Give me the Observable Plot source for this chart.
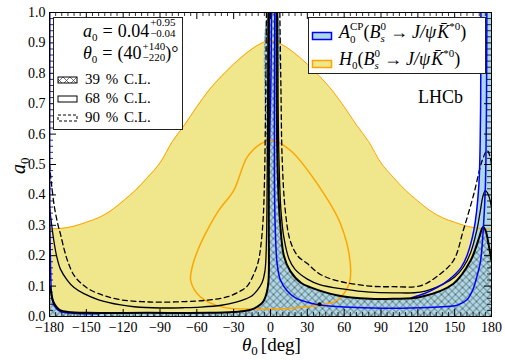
<!DOCTYPE html>
<html><head><meta charset="utf-8">
<script src="https://cdn.jsdelivr.net/npm/d3@7"></script>
<script src="https://cdn.jsdelivr.net/npm/@observablehq/plot@0.6"></script>
<style>body{margin:0;background:#fff} svg{display:block}</style>
</head><body>
<div id="chart"></div>
<script>
// ---------- tick values ----------
const xTicks = [-180,-150,-120,-90,-60,-30,0,30,60,90,120,150,180];
const xMinor = [-175,-170,-165,-160,-155,-145,-140,-135,-130,-125,-115,-110,-105,-100,-95,-85,-80,-75,-70,-65,-55,-50,-45,-40,-35,-25,-20,-15,-10,-5,5,10,15,20,25,35,40,45,50,55,65,70,75,80,85,95,100,105,110,115,125,130,135,140,145,155,160,165,170,175];
const yTicks = [0,0.1,0.2,0.3,0.4,0.5,0.6,0.7,0.8,0.9,1.0];
const yMinor = [0.02,0.04,0.06,0.08,0.12,0.14,0.16,0.18,0.22,0.24,0.26,0.28,0.32,0.34,0.36,0.38,0.42,0.44,0.46,0.48,0.52,0.54,0.56,0.58,0.62,0.64,0.66,0.68,0.72,0.74,0.76,0.78,0.82,0.84,0.86,0.88,0.92,0.94,0.96,0.98];

// ---------- H0 region (upper edge) and H0 contour [theta0, a0] ----------
const h0Top = [[-180,.288],[-170,.29],[-160,.297],[-150,.31],[-140,.325],[-130,.348],[-120,.38],[-110,.415],[-100,.458],[-90,.505],[-80,.575],[-70,.63],[-60,.69],[-50,.745],[-40,.79],[-30,.83],[-20,.865],[-10,.893],[0,.908],[10,.893],[20,.865],[30,.83],[40,.79],[50,.745],[60,.69],[70,.63],[80,.575],[90,.505],[100,.458],[110,.415],[120,.38],[130,.348],[140,.325],[150,.31],[160,.297],[170,.29],[180,.288]];
const h0Loop = [[1.4,.579],[-8,.568],[-19,.524],[-30,.414],[-42,.35],[-51.6,.283],[-60,.21],[-63.8,.162],[-65,.118],[-57,.064],[-38,.03],[-8,.025],[24.4,.03],[54,.053],[64,.108],[65,.174],[57,.305],[38,.437],[16.3,.546]];

// ---------- A0CP contour lines ----------
const blueLeft = [[-179.8,1],[-179.8,.45],[-179.3,.2],[-178,.063],[-176,.035],[-171,.016],[-160,.011],[-140,.009]];
const blueSpike = [[3.5,1],[3.2,.7],[3.2,.45],[3.8,.3],[5.4,.174],[8,.12],[13.5,.085],[20,.062],[30,.047],[40,.038],[60,.031],[92,.027],[122,.029],[140,.032],[152,.037],[160,.055],[165,.09],[168,.13],[171,.18],[173.5,.3],[175,.425],[175.8,.645],[176.1,.85],[176.2,1]];
const blueSpikeLeft = [[0.8,1],[0.4,.8],[-0.6,.6],[-1.3,.5]];
const blueOuter = [[115,.062],[125,.075],[136,.096],[145,.12],[155,.16],[160,.2],[165.6,.283],[169.6,.425],[171,.645],[171.3,.85],[171.4,1]];

// ---------- combined fit: 39 %, 68 %, 90 % C.L. contours ----------
const cl39Left = [[-180,.1],[-179,.085],[-177,.05],[-174,.03],[-171,.02],[-165,.015],[-150,.012],[-100,.012],[-50,.012],[-30,.015],[-19,.02],[-13.5,.026],[-8,.04],[-5.4,.053],[-3,.08],[-1.6,.118],[-1.4,.3],[-1.3,1]];
const cl39Right = [[5,1],[5.3,.6],[6.5,.4],[8,.3],[10.9,.2],[16,.15],[25,.11],[32.6,.096],[54,.07],[81,.058],[100,.058],[122,.064],[149,.108],[163,.184],[170,.26],[173,.294],[175,.285],[177.5,.24],[180,.184]];
const cl68Left = [[-180,.36],[-178.5,.31],[-176.5,.25],[-174,.195],[-171,.155],[-165.6,.12],[-160,.095],[-152,.075],[-140,.055],[-122,.038],[-111,.032],[-90,.028],[-70,.029],[-57,.031],[-40,.037],[-28,.047],[-20,.058],[-15,.068],[-11,.085],[-7,.11],[-4.5,.15],[-3.3,.25],[-2.7,.45],[-2.3,.7],[-2,1]];
const cl68Right = [[5.8,1],[6.2,.7],[7,.5],[8.5,.35],[10.9,.26],[15,.19],[20,.155],[30,.123],[40,.105],[60,.09],[81,.08],[100,.078],[122,.08],[140,.105],[150,.13],[157,.162],[163,.21],[168,.283],[171,.35],[173,.395],[175,.414],[177.5,.4],[180,.36]];
const cl90Left = [[-180,.5],[-178.5,.44],[-176,.36],[-173,.3],[-171,.27],[-168,.22],[-165,.18],[-160,.135],[-153,.105],[-146.6,.087],[-135,.068],[-122,.055],[-105,.049],[-90,.047],[-70,.049],[-51,.054],[-35,.065],[-24,.085],[-19,.1],[-13.5,.14],[-10,.18],[-8,.228],[-6,.32],[-4.9,.447],[-4,.7],[-3.3,1]];
const cl90Right = [[7.6,1],[8.5,.75],[9.5,.52],[12,.35],[16,.25],[22,.2],[30,.174],[40,.14],[54,.118],[81,.1],[100,.098],[122,.101],[135,.13],[149,.184],[157,.283],[165.6,.403],[172.4,.513],[176.5,.546],[178.5,.53],[180,.5]];
const bestFit = [[40,.04]];

// ---------- derived polygons ----------
const hatchPoly = [[-180,0], ...cl39Left, ...cl39Right, [180,0]];
const a0cpPoly = [[-180,0],[-180,1], ...blueLeft.slice(0,7), ...cl39Left.filter(d => d[0] > -155),
  ...cl39Right.filter(d => d[0] <= 163), ...blueOuter.filter(d => d[0] >= 165), [180,1],[180,0]];

const KHAKI = "#f0e68c", LBLUE = "#add8e6", ORANGE = "#ffa500", BLUE = "#0000ff";
const X = d => d[0], Y = d => d[1];
const H = 304, W = 442;

const svg = Plot.plot({
  width: 505, height: 360,
  marginLeft: 49, marginRight: 14, marginTop: 12, marginBottom: 44,
  style: {fontFamily: "'Liberation Serif', serif", fontSize: "14px", background: "white", color: "black"},
  x: {domain: [-180, 180]},
  y: {domain: [0, 1]},
  marks: [
    Plot.areaY(h0Top, {x: X, y: Y, fill: KHAKI, curve: "catmull-rom", clip: true}),
    Plot.line(a0cpPoly, {x: X, y: Y, fill: LBLUE, stroke: "none", curve: "catmull-rom", clip: true}),
    Plot.line(hatchPoly, {x: X, y: Y, fill: "url(#xhatch)", stroke: "none", curve: "catmull-rom", clip: true}),
    Plot.line(h0Top, {x: X, y: Y, stroke: ORANGE, strokeWidth: 1, curve: "catmull-rom", clip: true}),
    Plot.line(h0Loop, {x: X, y: Y, stroke: ORANGE, strokeWidth: 1.5, curve: "catmull-rom-closed", clip: true}),
    Plot.line(cl90Left, {x: X, y: Y, stroke: "black", strokeWidth: 1.3, strokeDasharray: "5,3.5", curve: "catmull-rom", clip: true}),
    Plot.line(cl90Right, {x: X, y: Y, stroke: "black", strokeWidth: 1.3, strokeDasharray: "5,3.5", curve: "catmull-rom", clip: true}),
    Plot.line(cl68Left, {x: X, y: Y, stroke: "black", strokeWidth: 1.3, curve: "catmull-rom", clip: true}),
    Plot.line(cl68Right, {x: X, y: Y, stroke: "black", strokeWidth: 1.3, curve: "catmull-rom", clip: true}),
    Plot.line(blueLeft, {x: X, y: Y, stroke: BLUE, strokeWidth: 1.5, curve: "catmull-rom", clip: true}),
    Plot.line(blueSpikeLeft, {x: X, y: Y, stroke: BLUE, strokeWidth: 1.5, curve: "catmull-rom", clip: true}),
    Plot.line(blueOuter, {x: X, y: Y, stroke: BLUE, strokeWidth: 1.5, curve: "catmull-rom", clip: true}),
    Plot.line(cl39Left, {x: X, y: Y, stroke: "black", strokeWidth: 2, curve: "catmull-rom", clip: true}),
    Plot.line(cl39Right, {x: X, y: Y, stroke: "black", strokeWidth: 2, curve: "catmull-rom", clip: true}),
    Plot.line(blueSpike, {x: X, y: Y, stroke: BLUE, strokeWidth: 1.5, curve: "catmull-rom", clip: true}),
    Plot.dot(bestFit, {x: X, y: Y, r: 2, fill: "black", stroke: "none"}),
    Plot.frame({stroke: "black", strokeWidth: 1}),
    Plot.tickX(xTicks, {x: d => d, insetTop: H - 7, stroke: "black"}),
    Plot.tickX(xTicks, {x: d => d, insetBottom: H - 7, stroke: "black"}),
    Plot.tickX(xMinor, {x: d => d, insetTop: H - 4, stroke: "black", strokeWidth: 0.8}),
    Plot.tickX(xMinor, {x: d => d, insetBottom: H - 4, stroke: "black", strokeWidth: 0.8}),
    Plot.tickY(yTicks, {y: d => d, insetRight: W - 7, stroke: "black"}),
    Plot.tickY(yTicks, {y: d => d, insetLeft: W - 7, stroke: "black"}),
    Plot.tickY(yMinor, {y: d => d, insetRight: W - 4, stroke: "black", strokeWidth: 0.8}),
    Plot.tickY(yMinor, {y: d => d, insetLeft: W - 4, stroke: "black", strokeWidth: 0.8}),
    Plot.axisX({ticks: xTicks, tickSize: 0, tickPadding: 6, tickFormat: d3.format("d"), label: null, fontSize: 14}),
    Plot.axisY({ticks: yTicks, tickSize: 0, tickPadding: 4, tickFormat: d3.format(".1f"), label: null, fontSize: 14})
  ]
});
document.getElementById("chart").append(svg);

// ---------- hatch pattern ----------
const s = d3.select(svg);
const defs = s.insert("defs", ":first-child");
const pat = defs.append("pattern").attr("id", "xhatch").attr("patternUnits", "userSpaceOnUse").attr("width", 7).attr("height", 7);
pat.append("path").attr("d", "M0,0L7,7M7,0L0,7M-1,1L1,-1M6,8L8,6M-1,6L1,8M6,-1L8,1").attr("stroke", "#3a3a3a").attr("stroke-width", 0.7).attr("fill", "none");

// ---------- text helper ----------
const FONT = "'Liberation Serif', serif";
function mathText(g, x, y, parts, base = 18) {
  let cx = x;
  const put = (q) => {
    const el = g.append("text").attr("x", cx).attr("y", y + (q.b || 0))
      .attr("text-anchor", "start")
      .attr("font-size", q.s || base).attr("font-family", FONT)
      .attr("font-style", q.i ? "italic" : "normal").attr("fill", "black").text(q.t);
    return el.node().getComputedTextLength();
  };
  for (const p of parts) {
    if (p.stack) {
      let w = 0;
      for (const q of p.stack) w = Math.max(w, put(q));
      cx += w + (p.g || 0);
    } else {
      cx += put(p) + (p.g || 0);
    }
  }
  return cx;
}

// ---------- left legend ----------
const lg = s.append("g").attr("text-anchor", "start");
lg.append("rect").attr("x", 53.5).attr("y", 17.5).attr("width", 129).attr("height", 112).attr("fill", "white").attr("stroke", "#222").attr("stroke-width", 1);
mathText(lg, 83, 37, [{t: "a", i: true}, {t: "0", s: 11, b: 4, g: 5}, {t: "=", g: 5}, {t: "0.04", g: 1},
  {stack: [{t: "+0.95", s: 11, b: -11}, {t: "\u22120.04", s: 11, b: 0}]}]);
mathText(lg, 83, 59, [{t: "\u03b8", i: true}, {t: "0", s: 11, b: 4, g: 5}, {t: "=", g: 5}, {t: "(40", g: 1},
  {stack: [{t: "+140", s: 11, b: -9}, {t: "\u2212220", s: 11, b: 2}]}, {t: ")\u00b0"}]);
lg.append("rect").attr("x", 58).attr("y", 77).attr("width", 19).attr("height", 6).attr("fill", "white").attr("stroke", "none");
lg.append("rect").attr("x", 58).attr("y", 77).attr("width", 19).attr("height", 6).attr("fill", "url(#xhatch)").attr("stroke", "black").attr("stroke-width", 1);
lg.append("rect").attr("x", 58).attr("y", 96).attr("width", 19).attr("height", 6).attr("fill", "white").attr("stroke", "black").attr("stroke-width", 1);
lg.append("rect").attr("x", 58).attr("y", 115).attr("width", 19).attr("height", 6).attr("fill", "white").attr("stroke", "black").attr("stroke-width", 1).attr("stroke-dasharray", "3,2");
const clLabels = ["39 % C.L.", "68 % C.L.", "90 % C.L."];
clLabels.forEach((t, i) => {
  lg.append("text").attr("x", 85).attr("y", 84 + i * 19).attr("font-size", 15).attr("font-family", FONT)
    .attr("text-anchor", "start").attr("word-spacing", "2px").text(t);
});

// ---------- right legend ----------
const rg = s.append("g").attr("text-anchor", "start");
rg.append("rect").attr("x", 308.5).attr("y", 17.5).attr("width", 177).attr("height", 56).attr("fill", "white").attr("stroke", "#222").attr("stroke-width", 1);
rg.append("rect").attr("x", 312.5).attr("y", 32.5).attr("width", 19).attr("height", 7).attr("fill", LBLUE).attr("stroke", BLUE).attr("stroke-width", 1.5);
rg.append("rect").attr("x", 312.5).attr("y", 60.5).attr("width", 19).attr("height", 7).attr("fill", KHAKI).attr("stroke", ORANGE).attr("stroke-width", 1.5);
const decay = [{t: "("}, {t: "B", i: true}, {stack: [{t: "0", s: 11, b: -8}, {t: "s", s: 11, i: true, b: 4}], g: 4},
  {t: "\u2192", g: 4}, {t: "J/\u03c8", i: true, g: 1}, {t: "K\u0304", i: true}, {t: "*0", s: 11, b: -8}, {t: ")"}];
mathText(rg, 339, 38, [{t: "A", i: true}, {stack: [{t: "CP", s: 11, b: -8}, {t: "0", s: 11, b: 5}]}, ...decay], 18);
mathText(rg, 339, 65, [{t: "H", i: true}, {t: "0", s: 11, b: 4}, ...decay], 18);

// ---------- LHCb and axis labels ----------
s.append("text").attr("x", 418).attr("y", 103).attr("font-size", 18).attr("font-family", FONT).attr("text-anchor", "start").text("LHCb");
mathText(s, 242, 351, [{t: "\u03b8", i: true, s: 19}, {t: "0", s: 13, b: 4, g: 3}, {t: "[deg]", s: 19}]);
const yl = s.append("g").attr("transform", "translate(25,174) rotate(-90)");
mathText(yl, 0, 0, [{t: "a", i: true, s: 20}, {t: "0", s: 13, b: 4}]);
</script>
</body></html>
